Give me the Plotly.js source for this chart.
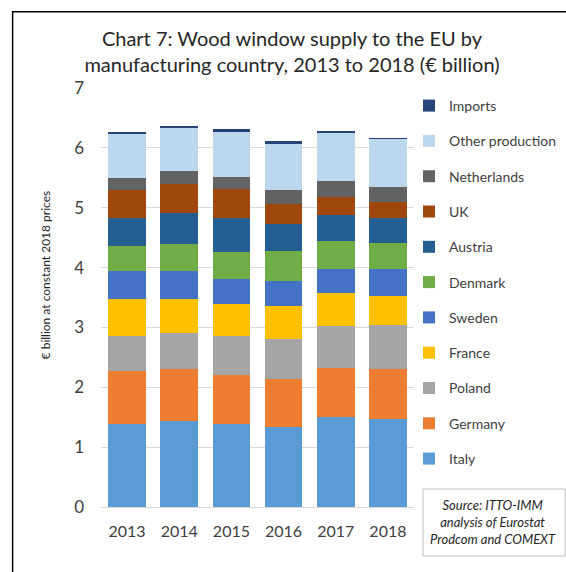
<!DOCTYPE html>
<html>
<head>
<meta charset="utf-8">
<script src="https://cdn.plot.ly/plotly-3.0.1.min.js"></script>
<style>html,body{margin:0;padding:0;background:#fff;}#chart{width:566px;height:572px;}</style>
</head>
<body>
<div id="chart"></div>
<script>
const years = ['2013', '2014', '2015', '2016', '2017', '2018'];
const italy       = [1.38, 1.44, 1.38, 1.33, 1.50, 1.47];
const germany     = [0.89, 0.87, 0.83, 0.81, 0.82, 0.84];
const poland      = [0.58, 0.59, 0.64, 0.66, 0.71, 0.73];
const france      = [0.63, 0.57, 0.54, 0.56, 0.54, 0.49];
const sweden      = [0.47, 0.47, 0.42, 0.41, 0.40, 0.44];
const denmark     = [0.41, 0.45, 0.45, 0.50, 0.48, 0.44];
const austria     = [0.46, 0.52, 0.57, 0.45, 0.43, 0.42];
const uk          = [0.47, 0.49, 0.48, 0.34, 0.30, 0.27];
const netherlands = [0.20, 0.22, 0.21, 0.24, 0.27, 0.25];
const otherProd   = [0.74, 0.71, 0.75, 0.77, 0.79, 0.79];
const imports     = [0.03, 0.04, 0.04, 0.04, 0.04, 0.03];
const yTicks = [0, 1, 2, 3, 4, 5, 6, 7];

const series = [
  ['Italy', italy, '#5B9BD5'],
  ['Germany', germany, '#ED7D31'],
  ['Poland', poland, '#A5A5A5'],
  ['France', france, '#FFC000'],
  ['Sweden', sweden, '#4472C4'],
  ['Denmark', denmark, '#70AD47'],
  ['Austria', austria, '#255E91'],
  ['UK', uk, '#9E480E'],
  ['Netherlands', netherlands, '#636363'],
  ['Other production', otherProd, '#BDD7EE'],
  ['Imports', imports, '#264478']
];

const traces = series.map(([name, vals, color], i) => ({
  type: 'bar', name: name, x: years, y: vals, legendgroup: name,
  legendrank: 1000 - i,
  marker: {color: color, line: {width: 0}}
}));

const font = 'Lato, "Open Sans", sans-serif';
const L = 100.6, R = 151.6, T = 88.3, B = 65;
const pw = 566 - L - R, ph = 572 - T - B;
const px = v => (v - L) / pw;
const py = v => (572 - B - v) / ph;

const layout = {
  width: 566, height: 572,
  margin: {l: L, r: R, t: T, b: B, autoexpand: false},
  barmode: 'stack', bargap: 0.28,
  paper_bgcolor: '#fff', plot_bgcolor: '#fff',
  font: {family: font, color: '#404040'},
  title: {
    text: 'Chart 7: Wood window supply to the EU by<br>manufacturing country, 2013 to 2018 (€ billion)',
    x: 292 / 566, xanchor: 'center', xref: 'container',
    y: 1 - 46 / 572, yanchor: 'top', yref: 'container',
    font: {size: 20, color: '#262626', family: font}
  },
  xaxis: {
    type: 'category', tickfont: {size: 16, color: '#404040'},
    showline: true, linecolor: '#d9d9d9', linewidth: 1,
    ticks: '', ticklabelstandoff: 10, fixedrange: true
  },
  yaxis: {
    range: [0, 7], tickvals: yTicks, ticktext: yTicks.map(String),
    tickfont: {size: 17, color: '#404040'},
    gridcolor: '#d9d9d9', gridwidth: 1, zeroline: false,
    ticks: '', ticklabelstandoff: 16, fixedrange: true
  },
  legend: {
    xref: 'container', yref: 'container',
    x: 409 / 566, xanchor: 'left', y: 1 - 90 / 572, yanchor: 'top',
    traceorder: 'grouped', tracegroupgap: 14.1, maxheight: 520,
    font: {size: 14, color: '#404040', family: font},
    itemwidth: 30, bgcolor: 'rgba(0,0,0,0)'
  },
  annotations: [
    {
      text: '€ billion at constant 2018 prices', textangle: -90,
      xref: 'paper', yref: 'paper', x: px(45), y: py(275),
      xanchor: 'center', yanchor: 'middle', showarrow: false,
      font: {size: 12, color: '#262626', family: font}
    },
    {
      text: '<i>Source: ITTO-IMM<br>analysis of Eurostat<br>Prodcom and COMEXT</i>',
      xref: 'paper', yref: 'paper', x: px(494), y: py(522),
      xanchor: 'center', yanchor: 'middle', showarrow: false, align: 'center',
      font: {size: 13, color: '#262626', family: font}
    }
  ],
  shapes: [
    {type: 'rect', xref: 'paper', yref: 'paper', x0: px(12), x1: px(600), y0: py(600), y1: py(12),
     line: {color: '#000', width: 1.5}, fillcolor: 'rgba(0,0,0,0)'},
    {type: 'rect', xref: 'paper', yref: 'paper', x0: px(423.5), x1: px(566), y0: py(556), y1: py(489),
     line: {color: '#bfbfbf', width: 1}, fillcolor: 'rgba(0,0,0,0)'}
  ]
};

Plotly.newPlot('chart', traces, layout, {displayModeBar: false, staticPlot: true});
</script>
</body>
</html>
